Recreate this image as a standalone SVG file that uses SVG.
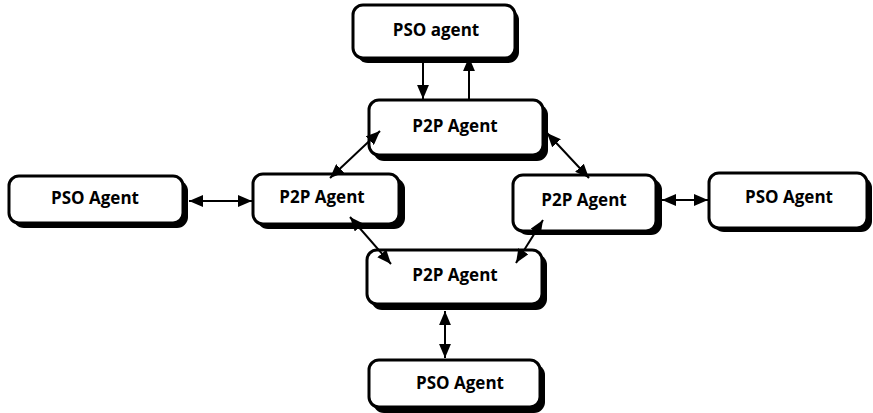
<svg xmlns="http://www.w3.org/2000/svg" width="873" height="413" viewBox="0 0 873 413">
  <style>
    .shadow { fill: #000; }
    .box { fill: #fff; stroke: #000; stroke-width: 3; }
    .label { font-family: "Open Sans", "Liberation Sans", sans-serif; font-weight: 700; font-size: 17px; fill: #000; text-anchor: middle; }
    .link { stroke: #000; stroke-width: 2; fill: none; }
  </style>
  <defs>
    <marker id="head" viewBox="0 0 13 11" refX="13" refY="5.5" markerWidth="14" markerHeight="12" markerUnits="userSpaceOnUse" orient="auto-start-reverse">
      <path d="M0,0 L13,5.5 L0,11 Z" fill="#000"/>
    </marker>
  </defs>

  <g id="pso-top">
    <rect class="shadow" x="357" y="9" width="162" height="54" rx="11"/>
    <rect class="box" x="353" y="5" width="162" height="53" rx="10"/>
    <text class="label" x="436" y="36">PSO agent</text>
  </g>
  <g id="p2p-top">
    <rect class="shadow" x="373" y="104" width="175" height="57" rx="11"/>
    <rect class="box" x="369" y="100" width="174" height="55" rx="10"/>
    <text class="label" x="455" y="132">P2P Agent</text>
  </g>
  <g id="pso-left">
    <rect class="shadow" x="13" y="180" width="175" height="48" rx="11"/>
    <rect class="box" x="9" y="176" width="174" height="47" rx="10"/>
    <text class="label" x="95" y="204">PSO Agent</text>
  </g>
  <g id="p2p-left">
    <rect class="shadow" x="257" y="178" width="148" height="51" rx="11"/>
    <rect class="box" x="253" y="174" width="146" height="50" rx="10"/>
    <text class="label" x="322" y="203">P2P Agent</text>
  </g>
  <g id="p2p-right">
    <rect class="shadow" x="517" y="179" width="145" height="56" rx="11"/>
    <rect class="box" x="513" y="175" width="143" height="56" rx="10"/>
    <text class="label" x="584" y="206">P2P Agent</text>
  </g>
  <g id="pso-right">
    <rect class="shadow" x="713" y="177" width="159" height="55" rx="11"/>
    <rect class="box" x="709" y="173" width="158" height="55" rx="10"/>
    <text class="label" x="789" y="203">PSO Agent</text>
  </g>
  <g id="p2p-bottom">
    <rect class="shadow" x="371" y="254" width="176" height="56" rx="11"/>
    <rect class="box" x="367" y="250" width="175" height="54" rx="10"/>
    <text class="label" x="455" y="281">P2P Agent</text>
  </g>
  <g id="pso-bottom">
    <rect class="shadow" x="373" y="364" width="172" height="49" rx="11"/>
    <rect class="box" x="369" y="360" width="171" height="47" rx="10"/>
    <text class="label" x="460" y="389">PSO Agent</text>
  </g>

  <g id="connectors">
    <line class="link" x1="423" y1="63" x2="423" y2="99" marker-end="url(#head)"/>
    <line class="link" x1="469" y1="99" x2="469" y2="57" marker-end="url(#head)"/>
    <line class="link" x1="380" y1="131" x2="330" y2="178" marker-start="url(#head)" marker-end="url(#head)"/>
    <line class="link" x1="547" y1="133" x2="589" y2="178" marker-start="url(#head)" marker-end="url(#head)"/>
    <line class="link" x1="350" y1="217" x2="391" y2="264" marker-start="url(#head)" marker-end="url(#head)"/>
    <line class="link" x1="543" y1="220" x2="516" y2="263" marker-start="url(#head)" marker-end="url(#head)"/>
    <line class="link" x1="189" y1="201" x2="252" y2="201" marker-start="url(#head)" marker-end="url(#head)"/>
    <line class="link" x1="662" y1="200" x2="708" y2="200" marker-start="url(#head)" marker-end="url(#head)"/>
    <line class="link" x1="445" y1="311" x2="445" y2="358" marker-start="url(#head)" marker-end="url(#head)"/>
  </g>
</svg>
